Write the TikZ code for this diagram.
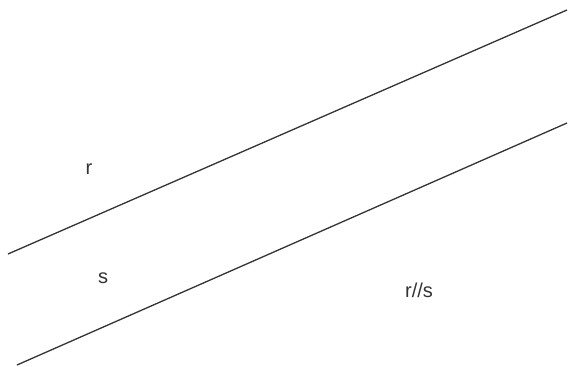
\documentclass[tikz,border=0pt]{standalone}
\usepackage{fontspec}
\setmainfont{Liberation Sans}
\begin{document}
\begin{tikzpicture}[x=1pt,y=-1pt,
  ln/.style={line width=1.3pt, draw=black!80},
  lbl/.style={font=\fontsize{20}{24}\selectfont, text=black!80, inner sep=0pt}]
\useasboundingbox[fill=white] (0,0) rectangle (571,367);
\coordinate (a1) at (8,254);
\coordinate (a2) at (567,10);
\coordinate (b1) at (17,365);
\coordinate (b2) at (567,123);
\draw[ln] (a1) -- (a2);
\draw[ln] (b1) -- (b2);
\node[lbl] (r) at (89,169) {r};
\node[lbl] (s) at (103,278) {s};
\node[lbl] (rs) at (419,290) {r//s};
\end{tikzpicture}
\end{document}
